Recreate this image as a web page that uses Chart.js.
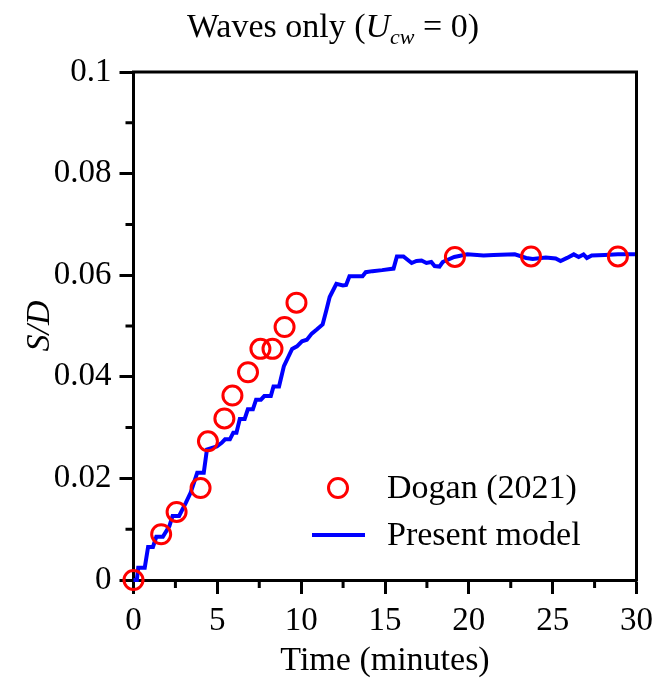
<!DOCTYPE html>
<html>
<head>
<meta charset="utf-8">
<script src="https://cdn.jsdelivr.net/npm/chart.js@4/dist/chart.umd.min.js"></script>
<style>
html,body{margin:0;padding:0;background:#fff;}
#wrap{width:661px;height:682px;position:relative;}
</style>
</head>
<body>
<div id="wrap"><canvas id="c" width="661" height="682"></canvas></div>
<script>
// ---- data ----
const obsLabel = 'Dogan (2021)';
const obsTime = [0, 1.65, 2.57, 4.0, 4.44, 5.42, 5.9, 6.83, 7.57, 8.29, 9.01, 9.72, 19.17, 23.71, 28.89];
const obsSD   = [0, 0.0090, 0.0134, 0.0181, 0.0273, 0.0318, 0.0363, 0.0409, 0.0455, 0.0455, 0.0498, 0.0546, 0.0636, 0.0637, 0.0637];

const modelLabel = 'Present model';
const modelTime = [0, 0.2, 0.28, 0.67, 0.87, 1.16, 1.36, 1.75, 2.14, 2.33, 2.72, 3.12, 3.41, 3.80, 4.19, 4.38, 4.97, 5.26, 5.46, 5.75, 5.95, 6.14, 6.34, 6.63, 6.82, 7.12, 7.31, 7.60, 7.80, 8.19, 8.35, 8.68, 8.97, 9.46, 9.75, 10.05, 10.34, 10.63, 10.93, 11.28, 11.51, 11.70, 12.10, 12.49, 12.68, 12.88, 13.66, 13.85, 14.25, 14.83, 15.51, 15.71, 16.10, 16.59, 16.88, 17.18, 17.47, 17.76, 17.96, 18.25, 18.44, 19.13, 19.91, 20.88, 21.47, 22.74, 23.42, 23.81, 24.59, 25.18, 25.47, 25.86, 26.26, 26.55, 26.84, 27.04, 27.33, 28.11, 28.89, 30.0];
const modelSD   = [0, 0, 0.0024, 0.0024, 0.0065, 0.0065, 0.0085, 0.0085, 0.0106, 0.0126, 0.0126, 0.0152, 0.0172, 0.0211, 0.0211, 0.0257, 0.0263, 0.0270, 0.0277, 0.0277, 0.0290, 0.0290, 0.0317, 0.0317, 0.0336, 0.0336, 0.0355, 0.0355, 0.0362, 0.0362, 0.0381, 0.0381, 0.0421, 0.0455, 0.0460, 0.0470, 0.0473, 0.0485, 0.0493, 0.0503, 0.0532, 0.0557, 0.0583, 0.0580, 0.0581, 0.0598, 0.0598, 0.0606, 0.0608, 0.0610, 0.0613, 0.0637, 0.0637, 0.0624, 0.0628, 0.0629, 0.0624, 0.0626, 0.0618, 0.0617, 0.0626, 0.0636, 0.0641, 0.0639, 0.0640, 0.0641, 0.0634, 0.0632, 0.0635, 0.0633, 0.0628, 0.0634, 0.0641, 0.0636, 0.0641, 0.0634, 0.0639, 0.0640, 0.0641, 0.0641];

const xTickValues = [0, 5, 10, 15, 20, 25, 30];
const xMinorValues = [2.5, 7.5, 12.5, 17.5, 22.5, 27.5];
const yTickValues = [0, 0.02, 0.04, 0.06, 0.08, 0.1];
const yMinorValues = [0.01, 0.03, 0.05, 0.07, 0.09];
const yTickLabels = ['0', '0.02', '0.04', '0.06', '0.08', '0.1'];

const xTitle = 'Time (minutes)';
const yTitle = 'S/D';

// ---- styles ----
const SERIF = '"Liberation Serif", "Times New Roman", serif';

const framePlugin = {
  id: 'frame',
  afterDraw(chart) {
    const ctx = chart.ctx;
    const a = chart.chartArea;
    const xs = chart.scales.x, ys = chart.scales.y;
    ctx.save();
    ctx.strokeStyle = '#000';
    ctx.lineWidth = 3;
    ctx.lineCap = 'butt';
    // top & right frame
    ctx.beginPath();
    ctx.moveTo(a.left - 1.5, a.top);
    ctx.lineTo(a.right, a.top);
    ctx.lineTo(a.right, a.bottom + 1.5);
    ctx.stroke();
    // minor ticks
    ctx.beginPath();
    xMinorValues.forEach(v => {
      const px = xs.getPixelForValue(v);
      ctx.moveTo(px, a.bottom);
      ctx.lineTo(px, a.bottom + 8);
    });
    yMinorValues.forEach(v => {
      const py = ys.getPixelForValue(v);
      ctx.moveTo(a.left, py);
      ctx.lineTo(a.left - 8, py);
    });
    ctx.stroke();

    // title
    ctx.fillStyle = '#000';
    ctx.textBaseline = 'alphabetic';
    const f1 = '34px ' + SERIF, fi = 'italic 34px ' + SERIF, fs = 'italic 22px ' + SERIF;
    const p1 = 'Waves only (', pU = 'U', pS = 'cw', p2 = ' = 0)';
    ctx.font = f1; const w1 = ctx.measureText(p1).width, w2 = ctx.measureText(p2).width;
    ctx.font = fi; const wU = ctx.measureText(pU).width;
    ctx.font = fs; const wS = ctx.measureText(pS).width;
    const total = w1 + wU + wS + w2;
    let x = 333 - total / 2;
    const base = 37;
    ctx.font = f1; ctx.textAlign = 'left'; ctx.fillText(p1, x, base); x += w1;
    ctx.font = fi; ctx.fillText(pU, x, base); x += wU;
    ctx.font = fs; ctx.fillText(pS, x, base + 7); x += wS;
    ctx.font = f1; ctx.fillText(p2, x, base);

    // legend
    const d0 = chart.data.datasets[0], d1 = chart.data.datasets[1];
    ctx.font = '34px ' + SERIF;
    ctx.textBaseline = 'middle';
    ctx.lineWidth = d0.pointBorderWidth;
    ctx.strokeStyle = d0.borderColor;
    ctx.beginPath();
    ctx.arc(338, 488, d0.pointRadius, 0, Math.PI * 2);
    ctx.stroke();
    ctx.fillText(d0.label, 387, 489);
    ctx.lineWidth = d1.borderWidth;
    ctx.strokeStyle = d1.borderColor;
    ctx.beginPath();
    ctx.moveTo(312, 535);
    ctx.lineTo(365, 535);
    ctx.stroke();
    ctx.fillText(d1.label, 387, 536);
    ctx.restore();
  }
};

new Chart(document.getElementById('c'), {
  type: 'scatter',
  data: {
    datasets: [
      {
        label: obsLabel,
        data: obsTime.map((t, i) => ({x: t, y: obsSD[i]})),
        showLine: false,
        pointStyle: 'circle',
        pointRadius: 9.5,
        pointBorderWidth: 3,
        borderWidth: 3,
        borderColor: '#ff0000',
        pointBorderColor: '#ff0000',
        pointBackgroundColor: 'rgba(0,0,0,0)',
        backgroundColor: 'rgba(0,0,0,0)',
        clip: false,
        order: 0
      },
      {
        label: modelLabel,
        data: modelTime.map((t, i) => ({x: t, y: modelSD[i]})),
        showLine: true,
        borderColor: '#0000ff',
        backgroundColor: '#0000ff',
        borderWidth: 4,
        pointRadius: 0,
        tension: 0,
        clip: false,
        order: 1
      }
    ]
  },
  options: {
    responsive: false,
    animation: false,
    events: [],
    layout: { padding: { left: 0, top: 72, right: 16, bottom: 0 } },
    plugins: { legend: { display: false }, tooltip: { enabled: false }, title: { display: false } },
    scales: {
      x: {
        type: 'linear',
        min: 0, max: 30,
        afterFit(s) { s.height = 102; },
        afterBuildTicks(s) { s.ticks = xTickValues.map(v => ({value: v})); },
        border: { display: true, color: '#000', width: 3 },
        grid: { drawOnChartArea: false, drawTicks: true, tickLength: 14, tickColor: '#000', tickWidth: 3 },
        ticks: { color: '#000', font: { family: SERIF, size: 33 }, padding: 8, maxRotation: 0, autoSkip: false },
        title: { display: true, text: xTitle, color: '#000', font: { family: SERIF, size: 34 }, padding: { top: 0, bottom: 1 } }
      },
      y: {
        type: 'linear',
        min: 0, max: 0.1,
        afterFit(s) { s.width = 133.5; },
        afterBuildTicks(s) { s.ticks = yTickValues.map(v => ({value: v})); },
        border: { display: true, color: '#000', width: 3 },
        grid: { drawOnChartArea: false, drawTicks: true, tickLength: 14, tickColor: '#000', tickWidth: 3 },
        ticks: {
          color: '#000', font: { family: SERIF, size: 33 }, padding: 8, autoSkip: false,
          callback: (v) => { const i = yTickValues.findIndex(t => Math.abs(t - v) < 1e-9); return i >= 0 ? yTickLabels[i] : ''; }
        },
        title: { display: true, text: yTitle, color: '#000', font: { family: SERIF, size: 34, style: 'italic' }, padding: { top: 20, bottom: 0 } }
      }
    }
  },
  plugins: [framePlugin]
});
</script>
</body>
</html>
